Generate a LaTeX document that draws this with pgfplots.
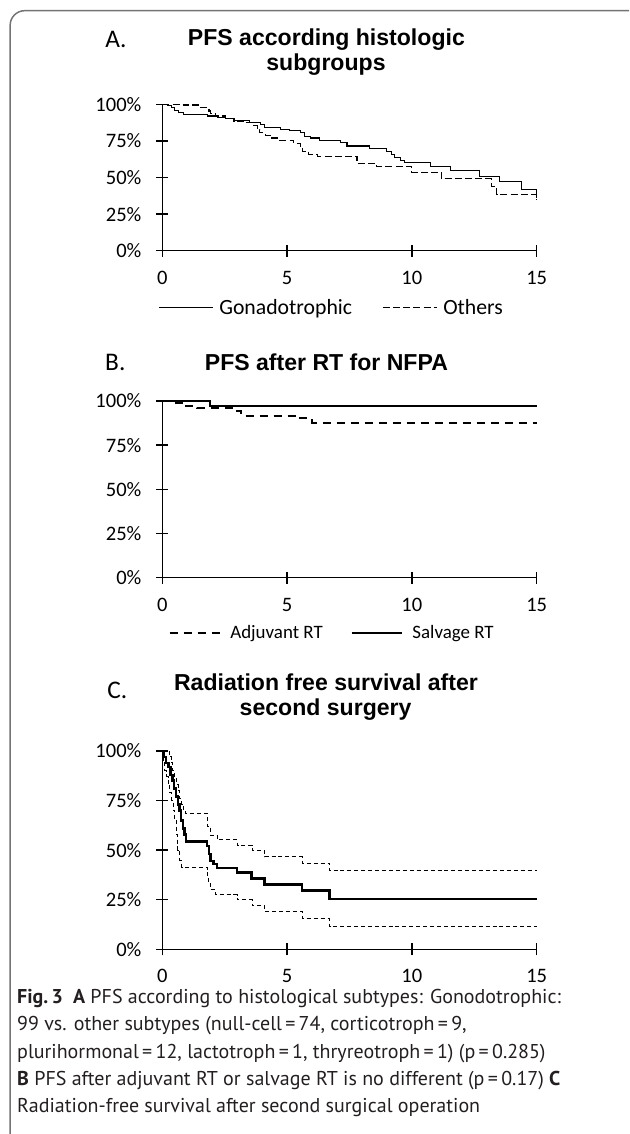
\documentclass[border=0pt]{standalone}
\usepackage{fontspec}
\setmainfont{Carlito}
\newfontfamily\arialfont{Liberation Sans}
\newfontfamily\capfont{PT Sans}
\usepackage{pgfplots}
\usepackage{pgfplotstable}
\pgfplotsset{compat=1.18}
\definecolor{captxt}{HTML}{231F20}
\newcommand\tickfont{\fontsize{15.4}{18}\selectfont}
\newcommand\legAfont{\fontsize{16.3}{19}\selectfont}
\newcommand\legBfont{\fontsize{14.2}{17}\selectfont}
\newcommand\ttlfont{\arialfont\bfseries\fontsize{17.3}{19.5}\selectfont}
\newcommand\letfont{\fontsize{19}{22}\selectfont}
\newcommand\cfont{\capfont\fontsize{15}{21}\selectfont}

\pgfplotstableread{
t s
0 100
0.2 99
0.35 97.5
0.5 96
0.65 94.5
0.85 93
1.8 92
2.2 91
2.55 90
2.9 89
3.5 87.5
3.95 86
4.1 84
4.75 83
5.1 82
5.55 80.5
5.7 78
5.95 77
6.3 75.5
7.15 74
7.4 71.5
8.3 70
9.0 68
9.2 66
9.3 63.5
9.55 61.5
9.7 60
10.75 57.5
11.55 54.5
12.7 51
13.5 47
14.4 42
15 36
}\Agon
\pgfplotstableread{
t s
0 100
0.87 99.5
1.53 97.7
1.87 95.4
1.93 94
2.13 92
2.53 90.5
2.87 88.6
3.27 87.4
3.67 85.6
3.8 83
3.91 80.6
4.13 79
4.33 77
4.67 75.5
5.27 73.5
5.53 70
5.6 68
5.87 65.8
6.2 64.6
7.8 59.6
8.6 57.3
10.0 53.7
11.2 49
13.2 44
13.4 38.3
15 35
}\Aoth
\pgfplotstableread{
t s
0 100
0.45 99
0.95 97.2
1.4 95.8
2.95 94.3
3.15 91.7
5.35 90.2
6.0 87.7
15 87.7
}\Badj
\pgfplotstableread{
t s
0 100
1.9 97.2
15 97.2
}\Bsal
\pgfplotstableread{
t s
0 100
0.07 97
0.15 94
0.25 92
0.33 88
0.4 85
0.47 81
0.55 77
0.62 73
0.68 70
0.75 65
0.82 61
0.88 58
0.95 54.5
1.8 52
1.87 48
1.93 44.5
2.05 43
2.2 41
3.0 38.8
3.57 35.6
4.1 32.7
5.6 29.7
6.7 25.3
15 25.3
}\Cmain
\pgfplotstableread{
t s
0 100
0.27 97
0.35 94
0.42 90
0.5 86
0.57 83
0.63 80
0.7 76
0.77 73
0.85 70
0.92 68.5
1.8 62
1.93 57.5
2.2 55.3
3.0 52.5
3.6 50
4.1 46.7
5.6 43.5
6.7 39.5
15 39.5
}\Cup
\pgfplotstableread{
t s
0 100
0.03 95
0.1 90
0.17 87
0.23 83
0.3 79
0.37 75
0.43 70
0.5 65
0.55 58
0.62 50
0.7 45
0.77 41.5
1.8 37
1.87 33
1.93 30
2.13 27.5
3.0 25
3.6 22
4.1 19
5.6 15.5
6.7 11.3
15 11.3
}\Clow

\pgfplotsset{
  km/.style={
    scale only axis, width=280.8pt, anchor=south west,
    xmin=0, xmax=15, ymin=0, ymax=100,
    axis lines=left, axis line style={-, line width=1.1pt, black},
    xtick={0,5,10,15}, xticklabels={0,5,10,15},
    ytick={0,25,50,75,100}, yticklabels={0\%,25\%,50\%,75\%,100\%},
    tick align=center, major tick length=9pt,
    tick style={black, line width=1.1pt},
    tick label style={font=\tickfont, inner sep=0pt},
    yticklabel style={anchor=east, xshift=-11pt},
    xticklabel style={anchor=north, yshift=-11pt},
    clip=false,
    legend columns=2,
    legend style={draw=none, fill=none, inner sep=0pt, anchor=west,
      nodes={inner sep=0pt}},
  }
}

\begin{document}
\begin{tikzpicture}
\path[use as bounding box] (0pt,0pt) rectangle (471.75pt,-850.5pt);
\clip (0pt,0pt) rectangle (471.75pt,-850.5pt);
\draw[rounded corners=11pt, line width=1.1pt, color=black!55] (7.6pt,-8pt) rectangle (520pt,-900pt);

% Panel A
\node[font=\letfont] at (87pt,-29.5pt) {A.};
\node[font=\ttlfont] at (244.8pt,-29.5pt) {PFS according histologic};
\node[font=\ttlfont] at (244.5pt,-48.8pt) {subgroups};
\begin{axis}[km, at={(121.725pt,-188.025pt)}, height=109.8pt,
  legend style={at={(-0.0115,-0.391)}, font=\legAfont,
    /tikz/every odd column/.append style={column sep=4.5pt},
    /tikz/every even column/.append style={column sep=22.5pt}},
  legend image code/.code={\draw[#1] (0pt,0pt) -- (40.5pt,0pt);}]
\addplot[const plot, black, line width=0.8pt] table[x=t,y=s]{\Agon};
\addlegendentry{Gonadotrophic}
\addplot[const plot, black, line width=0.8pt, dash pattern=on 5.25pt off 2.4pt] table[x=t,y=s]{\Aoth};
\addlegendentry{Others}
\end{axis}

% Panel B
\node[font=\letfont] at (86.5pt,-272pt) {B.};
\node[font=\ttlfont] at (244.8pt,-272pt) {PFS after RT for NFPA};
\begin{axis}[km, at={(121.725pt,-433.275pt)}, height=132.525pt,
  legend style={at={(0.016,-0.313)}, font=\legBfont,
    /tikz/every odd column/.append style={column sep=6.8pt},
    /tikz/every even column/.append style={column sep=21pt}},
  legend image code/.code={\draw[#1] (0pt,0pt) -- (38pt,0pt);}]
\addplot[const plot, black, line width=1.5pt, dash pattern=on 6pt off 4.5pt] table[x=t,y=s]{\Badj};
\addlegendentry{Adjuvant RT}
\addplot[const plot, black, line width=1.5pt] table[x=t,y=s]{\Bsal};
\addlegendentry{Salvage RT}
\end{axis}

% Panel C
\node[font=\letfont] at (88pt,-517.5pt) {C.};
\node[font=\ttlfont] at (244.5pt,-512pt) {Radiation free survival after};
\node[font=\ttlfont] at (244.2pt,-532pt) {second surgery};
\begin{axis}[km, at={(121.725pt,-711.975pt)}, height=148.725pt,
  xticklabel style={yshift=1pt}]
\addplot[const plot, black, line width=0.75pt, dash pattern=on 3pt off 2.2pt] table[x=t,y=s]{\Cup};
\addplot[const plot, black, line width=0.75pt, dash pattern=on 3pt off 2.2pt] table[x=t,y=s]{\Clow};
\addplot[const plot, black, line width=1.9pt] table[x=t,y=s]{\Cmain};
\end{axis}

% Caption
\begin{scope}[every node/.style={anchor=base west, inner sep=0pt, font=\cfont, text=captxt}]
\node at (12.7pt,-752.5pt) {\textbf{Fig.\,3}\enspace\textbf{A} PFS according to histological subtypes: Gonodotrophic:};
\node at (12.7pt,-773pt) {99 vs. other subtypes (null-cell\,=\,74, corticotroph\,=\,9,};
\node at (12.7pt,-793.5pt) {plurihormonal\,=\,12, lactotroph\,=\,1, thryreotroph\,=\,1) (p\,=\,0.285)};
\node at (12.7pt,-814pt) {\textbf{B} PFS after adjuvant RT or salvage RT is no different (p\,=\,0.17) \textbf{C}};
\node at (12.7pt,-834.5pt) {Radiation-free survival after second surgical operation};
\end{scope}
\end{tikzpicture}
\end{document}
